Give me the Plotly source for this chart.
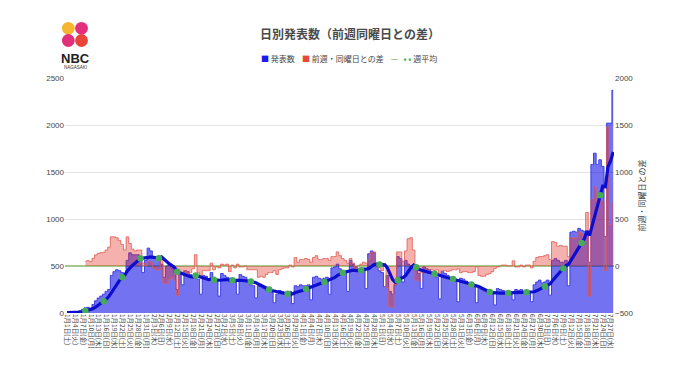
import pandas as pd
import plotly.graph_objects as go

# ---- daily reported cases, 2022-01-01 .. 2022-07-28 ----
jan = [4, 3, 2, 8, 12, 25, 38, 55, 60, 50, 90, 130, 160, 180, 200, 230, 250, 400, 440, 460, 450,
       430, 400, 560, 640, 620, 620, 620, 600, 430, 560]
feb = [690, 660, 600, 580, 560, 520, 380, 500, 520, 480, 430, 250, 430, 300, 450, 440, 410, 400,
       370, 360, 200, 400, 390, 360, 430, 330, 350, 180]
mar = [420, 400, 380, 370, 340, 330, 200, 410, 390, 380, 330, 300, 290, 160, 290, 280, 260, 240,
       230, 220, 110, 200, 240, 230, 220, 210, 230, 100, 290, 280, 300]
apr = [290, 290, 300, 140, 380, 390, 370, 360, 370, 380, 200, 480, 490, 520, 470, 450, 440, 230,
       560, 520, 490, 470, 470, 480, 260, 630, 660, 640, 500, 450]
may = [430, 280, 400, 230, 200, 300, 600, 580, 330, 560, 520, 500, 470, 450, 420, 260, 490, 470,
       460, 430, 400, 380, 150, 440, 420, 400, 380, 360, 340, 120, 370]
jun = [360, 340, 310, 290, 280, 110, 270, 250, 230, 220, 210, 220, 85, 260, 250, 240, 230, 210,
       220, 140, 250, 240, 250, 220, 220, 230, 120, 300, 330, 350]
jul = [320, 330, 350, 190, 560, 580, 560, 540, 540, 560, 290, 860, 870, 860, 900, 880, 870, 860,
       540, 1580, 1700, 1580, 1630, 1560, 815, 2020, 2020, 2370]

daily = jan + feb + mar + apr + may + jun + jul
dates = pd.date_range("2022-01-01", periods=len(daily), freq="D")
weekday_kanji = ["月", "火", "水", "木", "金", "土", "日"]
tick_dates = dates[::3]
tick_labels = [f"{d.month}月{d.day}日({weekday_kanji[d.dayofweek]})" for d in tick_dates]

left_ticks = [0, 500, 1000, 1500, 2000, 2500]
right_ticks = [-500, 0, 500, 1000, 1500, 2000]

# series defined by the chart: difference vs same weekday of previous week, 7-day average
s = pd.Series(daily, index=dates)
diff_prev_week = s.diff(7)
week_avg = s.rolling(7, min_periods=1).mean()
week_avg_points = week_avg.iloc[7::7]

FONT = "Noto Sans CJK JP"

fig = go.Figure()
fig.add_trace(go.Scatter(
    x=dates, y=daily, mode="lines", name="発表数", yaxis="y",
    line=dict(shape="hvh", color="rgba(50,50,225,0.9)", width=1),
    fill="tozeroy", fillcolor="rgba(0,0,230,0.55)", showlegend=False))
fig.add_trace(go.Scatter(
    x=dates, y=diff_prev_week, mode="lines", name="前週・同曜日との差", yaxis="y2",
    line=dict(shape="hvh", color="rgba(225,90,80,0.8)", width=1),
    fill="tozeroy", fillcolor="rgba(230,50,40,0.38)", showlegend=False))
fig.add_trace(go.Scatter(
    x=dates, y=week_avg, mode="lines", name="週平均", yaxis="y3",
    line=dict(color="#0d0dd0", width=3.2), showlegend=False))
fig.add_trace(go.Scatter(
    x=week_avg_points.index, y=week_avg_points.values, mode="markers", name="週平均",
    yaxis="y3", marker=dict(color="#45ab58", size=6.5), showlegend=False))

# page has an 8px body margin, so the figure is sized/offset to compensate
OFF = 8
W, H = 680 - OFF, 382 - OFF
L, T = 65 - OFF, 78 - OFF
R, B = 66, 69
PW, PH = W - L - R, H - T - B
PLOT_LEFT, PLOT_BOTTOM = 65, 313  # page pixel coordinates


def px(xp):
    return (xp - PLOT_LEFT) / PW


def py(yp):
    return (PLOT_BOTTOM - yp) / PH


shapes = []
logo = [((68.3, 28.3), "#f6b632"), ((81.5, 28.3), "#e4307c"),
        ((68.3, 40.5), "#e22f79"), ((81.5, 40.5), "#e9443a")]
for (cx, cy), col in logo:
    r = 6.4
    shapes.append(dict(type="circle", xref="paper", yref="paper",
                       x0=px(cx - r), x1=px(cx + r), y0=py(cy + r), y1=py(cy - r),
                       fillcolor=col, line=dict(width=0)))

nb = "\u00a0"
legend_text = (f'<span style="color:#1a1af0">■</span>{nb}発表数{nb*4}'
               f'<span style="color:#e8473c">■</span>{nb}前週・同曜日との差{nb*4}'
               f'<span style="color:#8cc06a"><b>—</b></span>{nb*3}'
               f'<span style="color:#3fae55"><b>•{nb}•</b></span>{nb}週平均')

annotations = [
    dict(text="<b>日別発表数（前週同曜日との差）</b>", xref="paper", yref="paper",
         x=px(350), y=py(34), showarrow=False, xanchor="center", yanchor="middle",
         font=dict(family=FONT, size=12, color="#4a4a4a")),
    dict(text=legend_text, xref="paper", yref="paper", x=px(349), y=py(58.5),
         showarrow=False, xanchor="center", yanchor="middle",
         font=dict(family=FONT, size=8, color="#444")),
    dict(text="<b>NBC</b>", xref="paper", yref="paper", x=px(75), y=py(58),
         showarrow=False, xanchor="center", yanchor="middle",
         font=dict(family="Liberation Sans", size=13, color="#222")),
    dict(text="NAGASAKI", xref="paper", yref="paper", x=px(75), y=py(67.5),
         showarrow=False, xanchor="center", yanchor="middle",
         font=dict(family="Liberation Sans", size=4.5, color="#333")),
]

day = pd.Timedelta(days=1)
fig.update_layout(
    width=W, height=H, margin=dict(l=L, r=R, t=T, b=B, autoexpand=False),
    paper_bgcolor="white", plot_bgcolor="white", showlegend=False,
    font=dict(family=FONT, color="#444"),
    shapes=shapes, annotations=annotations,
    xaxis=dict(type="date", range=[dates[0] - 0.76 * day, dates[-1] + 0.3 * day],
               tickmode="array", tickvals=list(tick_dates), ticktext=tick_labels,
               tickangle=90, tickfont=dict(family=FONT, size=6.5, color="#444"),
               showgrid=False, zeroline=False, showline=False, ticks=""),
    yaxis=dict(range=[0, 2500], tickvals=left_ticks, side="left",
               gridcolor="#e3e3e3", gridwidth=1, zeroline=False, showline=False,
               tickfont=dict(family="Liberation Sans", size=8, color="#444"), ticks=""),
    yaxis2=dict(range=[-500, 2000], tickvals=right_ticks, overlaying="y", side="right",
                showgrid=False, zeroline=True, zerolinecolor="#a6c98a", zerolinewidth=1.5,
                showline=False, ticks="",
                tickfont=dict(family="Liberation Sans", size=8, color="#444"),
                title=dict(text="前週・同曜日との差", standoff=6,
                           font=dict(family=FONT, size=8, color="#444"))),
    yaxis3=dict(range=[0, 2500], overlaying="y", visible=False),
)

fig.write_html("out.html")
